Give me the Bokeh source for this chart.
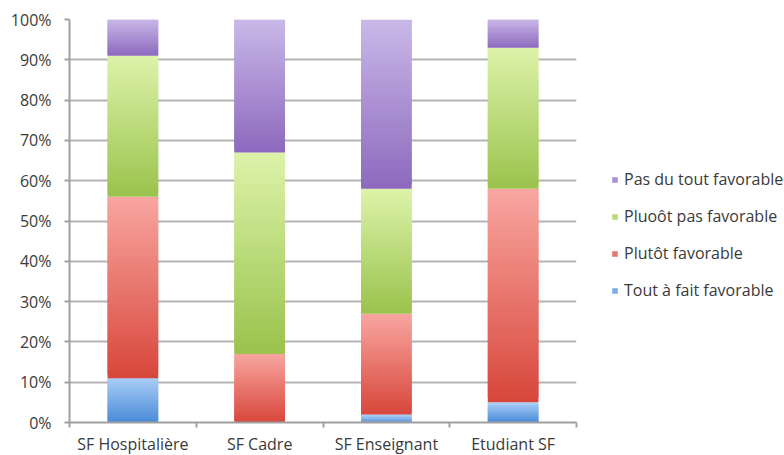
from bokeh.plotting import figure
from bokeh.models import (ColumnDataSource, FixedTicker, NumeralTickFormatter,
                          Range1d, Legend, LegendItem)
from bokeh.embed import file_html
from bokeh.resources import INLINE

categories = ["SF Hospitalière", "SF Cadre", "SF Enseignant", "Etudiant SF"]
tout_a_fait = [0.11, 0.00, 0.02, 0.05]
plutot = [0.45, 0.17, 0.25, 0.53]
plutot_pas = [0.35, 0.50, 0.31, 0.35]
pas_du_tout = [0.09, 0.33, 0.42, 0.07]

series = [
    ("Tout à fait favorable", tout_a_fait, "#4A8BD8", "#A9CDF7"),
    ("Plutôt favorable", plutot, "#D8463B", "#F8A6A0"),
    ("Pluoôt pas favorable", plutot_pas, "#9AC24C", "#DDF3AA"),
    ("Pas du tout favorable", pas_du_tout, "#8C69BD", "#C9B8E8"),
]

FONT = "Open Sans"
N = 40


def lerp(c1, c2, t):
    a = [int(c1[i:i + 2], 16) for i in (1, 3, 5)]
    b = [int(c2[i:i + 2], 16) for i in (1, 3, 5)]
    return "#%02x%02x%02x" % tuple(round(a[k] + (b[k] - a[k]) * t) for k in range(3))


p = figure(frame_width=507, frame_height=403, output_backend="svg", toolbar_location=None,
           x_range=Range1d(0, len(categories)), y_range=Range1d(0, 1),
           min_border_left=69, min_border_right=0, min_border_top=19,
           min_border_bottom=17)
p.outline_line_color = None
p.background_fill_color = "white"
p.border_fill_color = "white"

base = [0.0] * len(categories)
renderers = []
for label, vals, c_bot, c_top in series:
    xs, bots, tops, cols = [], [], [], []
    for i, v in enumerate(vals):
        if v <= 0:
            continue
        for k in range(N):
            b = base[i] + v * k / N
            t = base[i] + v * (k + 1) / N
            xs.append(i + 0.5)
            bots.append(b)
            tops.append(t + (0 if k == N - 1 else v / N * 0.9))
            cols.append(lerp(c_bot, c_top, (k + 0.5) / N))
    src = ColumnDataSource(dict(x=xs, bottom=bots, top=tops, color=cols))
    r = p.vbar(x="x", bottom="bottom", top="top", width=0.4, source=src,
               fill_color="color", line_color=None)
    renderers.append((label, r))
    base = [base[i] + vals[i] for i in range(len(vals))]

# axes
p.xgrid.grid_line_color = None
p.ygrid.grid_line_color = "#B4B4B4"
p.ygrid.grid_line_width = 2
p.ygrid.ticker = FixedTicker(ticks=[i / 10 for i in range(11)])

p.yaxis.ticker = FixedTicker(ticks=[i / 10 for i in range(11)])
p.yaxis.formatter = NumeralTickFormatter(format="0%")
p.yaxis.axis_line_color = "#A0A0A0"
p.yaxis.axis_line_width = 2
p.yaxis.major_tick_line_color = "#A0A0A0"
p.yaxis.major_tick_line_width = 2
p.yaxis.major_tick_out = 5
p.yaxis.major_tick_in = 0
p.yaxis.minor_tick_line_color = None
p.yaxis.major_label_text_font = FONT
p.yaxis.major_label_text_font_size = "16px"
p.yaxis.major_label_text_color = "#3A3A3A"
p.yaxis.major_label_standoff = 13

p.xaxis.ticker = FixedTicker(ticks=[i + 0.5 for i in range(len(categories))],
                             minor_ticks=list(range(len(categories) + 1)))
p.xaxis.major_label_overrides = {i + 0.5: c for i, c in enumerate(categories)}
p.xaxis.axis_line_color = "#A0A0A0"
p.xaxis.axis_line_width = 2
p.xaxis.major_tick_line_color = None
p.xaxis.minor_tick_line_color = "#A0A0A0"
p.xaxis.minor_tick_line_width = 2
p.xaxis.minor_tick_out = 5
p.xaxis.minor_tick_in = 0
p.xaxis.major_label_text_font = FONT
p.xaxis.major_label_text_font_size = "16px"
p.xaxis.major_label_text_color = "#3A3A3A"
p.xaxis.major_label_standoff = 4

items = [LegendItem(label=lab, renderers=[r], index=N // 2) for lab, r in reversed(renderers)]
legend = Legend(items=items, location=(35, 121), orientation="vertical",
                glyph_width=7, glyph_height=7, label_standoff=6, spacing=15,
                label_height=20, padding=0, margin=0,
                border_line_color=None, background_fill_alpha=0,
                label_text_font=FONT, label_text_font_size="16px",
                label_text_color="#3A3A3A")
p.add_layout(legend, "right")

open("out.html", "w").write(file_html(p, INLINE))
